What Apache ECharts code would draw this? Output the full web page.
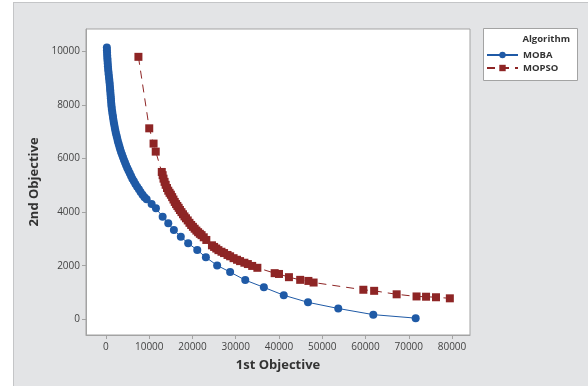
<!DOCTYPE html>
<html>
<head>
<meta charset="utf-8">
<script src="https://cdn.jsdelivr.net/npm/echarts@6/dist/echarts.min.js"></script>
<style>
  body { margin: 0; background: #fff; }
  #panel { position: absolute; left: 13px; top: 2px; width: 580px; height: 390px;
           background: #e3e4e6; border-top: 1px solid #c4c5c7; border-left: 1px solid #c4c5c7; }
  #main { position: absolute; left: 0; top: 0; width: 588px; height: 386px; }
</style>
</head>
<body>
<div id="panel"></div>
<div id="main"></div>
<script>
// tick labels
var xTicks = [0, 10000, 20000, 30000, 40000, 50000, 60000, 70000, 80000];
var yTicks = [0, 2000, 4000, 6000, 8000, 10000];

// MOBA front (1st objective, 2nd objective)
var mobaX = [200, 220, 250, 280, 320, 360, 400, 450, 500, 560, 620, 690, 760, 820, 880, 930, 980, 1030, 1080, 1130,
             1180, 1230, 1280, 1350, 1440, 1530, 1620, 1710, 1810, 1920, 2040, 2160, 2300, 2450, 2600, 2750, 2920, 3100,
             3280, 3480, 3700, 3930, 4160, 4400, 4650, 4920, 5200, 5500, 5800, 6100, 6450, 6800, 7200, 7600, 8000, 8450,
             8900, 9400, 10550, 11550, 13100, 14400, 15700, 17300, 19000, 21100, 23100, 25700, 28700, 32200, 36500,
             41100, 46700, 53700, 61800, 71600];
var mobaY = [10150, 10050, 9950, 9850, 9750, 9650, 9550, 9450, 9350, 9250, 9150, 9050, 8950, 8850, 8750, 8650, 8550, 8450, 8350, 8250,
             8150, 8050, 7950, 7850, 7750, 7650, 7550, 7450, 7350, 7250, 7150, 7050, 6950, 6850, 6750, 6650, 6550, 6450,
             6350, 6250, 6150, 6050, 5950, 5850, 5750, 5650, 5550, 5450, 5350, 5250, 5150, 5050, 4950, 4850, 4750, 4650,
             4560, 4480, 4300, 4140, 3830, 3580, 3330, 3080, 2835, 2585, 2310, 2010, 1760, 1460, 1190,
             895, 630, 400, 170, 40];

// MOPSO front
var mopsoX = [7500, 10000, 11000, 11500, 12900, 13100, 13300, 13550, 13800, 14100, 14400, 14700, 15000, 15300, 15600, 15900,
              16200, 16500, 16800, 17100, 17450, 17800, 18150, 18500, 18900, 19300, 19700, 20100, 20500, 20900, 21300,
              21700, 22100, 22600, 23200, 24500, 25000, 25500, 26000, 26700, 27300, 28100, 28700, 29500, 30300, 31000,
              32000, 32800, 33800, 35000, 39000, 40000, 42300, 44900, 46800, 48000, 59500, 62000, 67200, 71800, 74000,
              76300, 79500];
var mopsoY = [9800, 7130, 6560, 6260, 5500, 5380, 5250, 5130, 5020, 4900, 4800, 4720, 4650, 4560, 4470, 4380,
              4300, 4230, 4160, 4080, 4000, 3920, 3840, 3770, 3690, 3600, 3520, 3450, 3380, 3310, 3250,
              3190, 3140, 3060, 2960, 2760, 2700, 2640, 2580, 2520, 2470, 2400, 2350, 2280, 2220, 2170,
              2110, 2060, 1990, 1920, 1720, 1690, 1570, 1470, 1430, 1370, 1100, 1060, 930, 850, 840,
              820, 780];

function pairs(xs, ys) {
    var out = [];
    for (var i = 0; i < xs.length; i++) {
        out.push([xs[i], ys[i]]);
    }
    return out;
}

var font = '"Open Sans", "Noto Sans", sans-serif';
var chart = echarts.init(document.getElementById('main'));

var option = {
    animation: false,
    textStyle: { fontFamily: font },
    grid: {
        left: 86, top: 29, width: 384, height: 306,
        show: true, backgroundColor: '#ffffff', borderColor: '#a3a3a3', borderWidth: 1
    },
    graphic: [
        {
            type: 'rect', left: 483, top: 28,
            shape: { width: 94, height: 52 },
            style: { fill: '#ffffff', stroke: '#a3a3a3', lineWidth: 1 }
        },
        {
            type: 'text', right: 18, top: 34,
            style: { text: 'Algorithm', fill: '#333', font: 'bold 9.5px ' + font }
        }
    ],
    legend: {
        left: 486, top: 50, orient: 'vertical',
        itemWidth: 31, itemHeight: 8, itemGap: 3,
        padding: 0,
        textStyle: { fontSize: 9.5, fontWeight: 'bold', color: '#333', fontFamily: font },
        data: ['MOBA', 'MOPSO']
    },
    xAxis: {
        type: 'value', min: -4620, max: 84160,
        name: '1st Objective', nameLocation: 'middle', nameGap: 24,
        nameTextStyle: { fontSize: 13, fontWeight: 'bold', color: '#333' },
        splitLine: { show: false },
        axisLine: { show: true, onZero: false, lineStyle: { color: '#a3a3a3' } },
        axisTick: { show: true, length: 4, customValues: xTicks, lineStyle: { color: '#a3a3a3' } },
        axisLabel: { customValues: xTicks, margin: 7, fontSize: 10, color: '#444',
                     formatter: function (v) { return String(v); } }
    },
    yAxis: {
        type: 'value', min: -590, max: 10840,
        name: '2nd Objective', nameLocation: 'middle', nameGap: 41,
        nameTextStyle: { fontSize: 13, fontWeight: 'bold', color: '#333' },
        splitLine: { show: false },
        axisLine: { show: true, onZero: false, lineStyle: { color: '#a3a3a3' } },
        axisTick: { show: true, length: 4, customValues: yTicks, lineStyle: { color: '#a3a3a3' } },
        axisLabel: { customValues: yTicks, margin: 6, fontSize: 10, color: '#444',
                     formatter: function (v) { return String(v); } }
    },
    series: [
        {
            name: 'MOBA', type: 'line',
            data: pairs(mobaX, mobaY),
            symbol: 'circle', symbolSize: 8,
            itemStyle: { color: '#1f5aa6' },
            lineStyle: { color: '#1f5aa6', width: 1 }
        },
        {
            name: 'MOPSO', type: 'line',
            data: pairs(mopsoX, mopsoY),
            symbol: 'rect', symbolSize: 8,
            itemStyle: { color: '#8e2525' },
            lineStyle: { color: '#8e2525', width: 1, type: [8, 6] }
        }
    ]
};
chart.setOption(option);
</script>
</body>
</html>
